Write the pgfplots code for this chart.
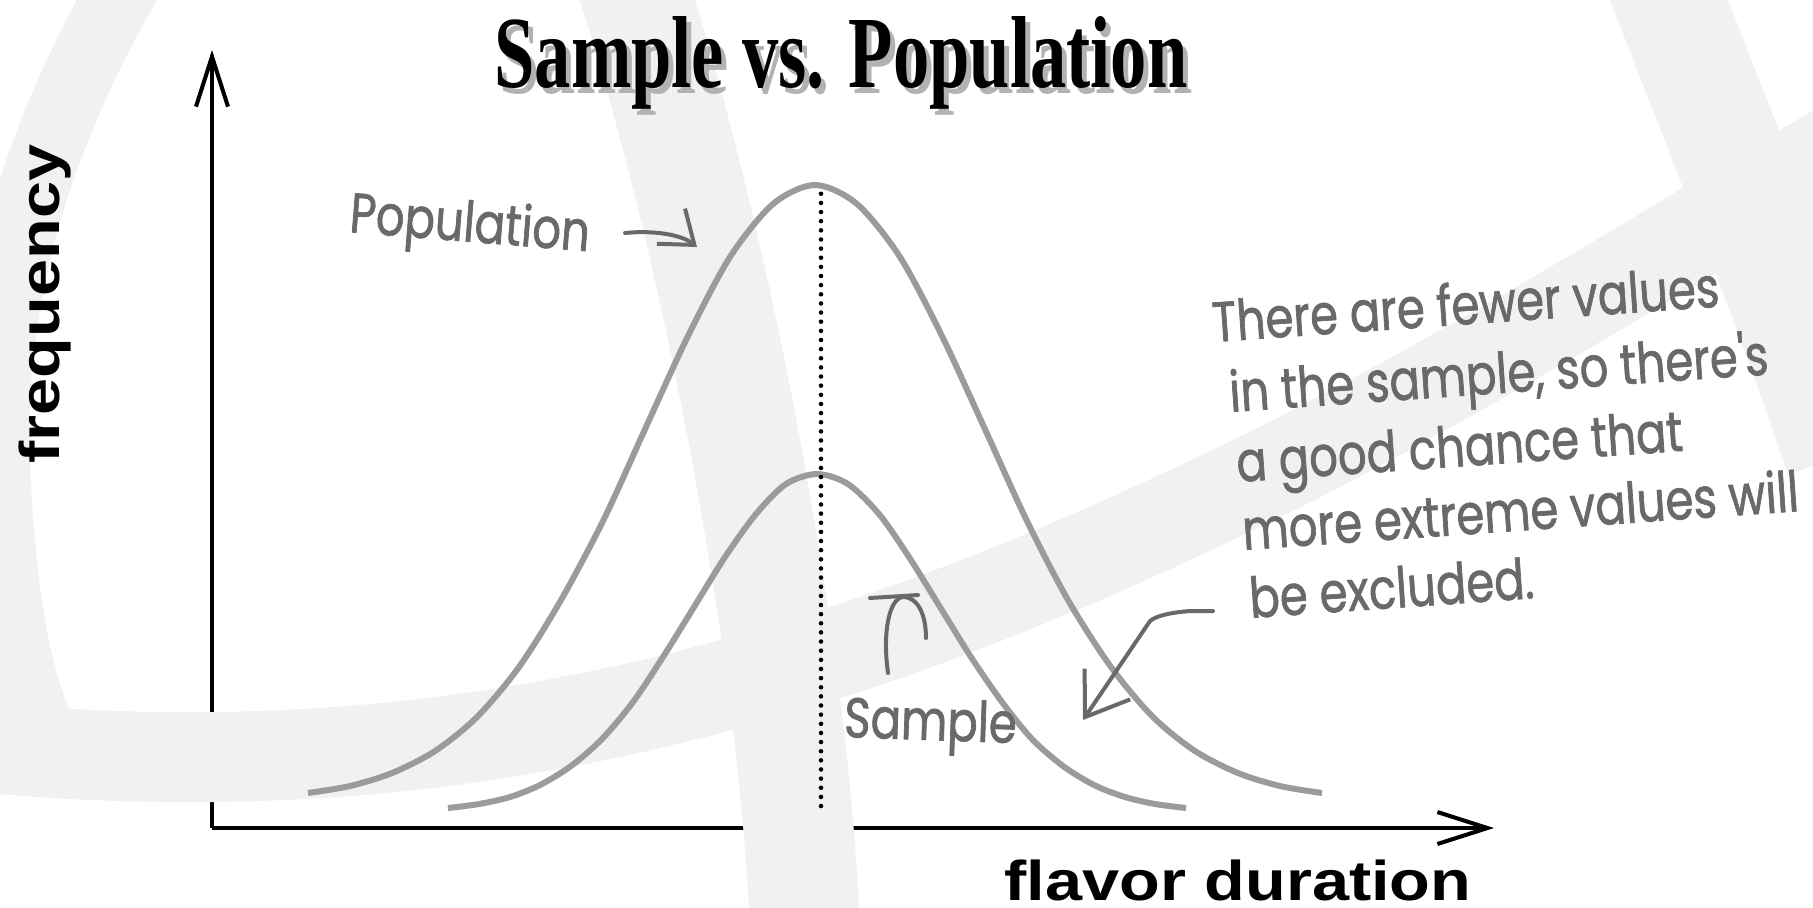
\documentclass[border=0pt]{standalone}
\usepackage{graphicx}
\usepackage{pgfplots}
\pgfplotsset{compat=1.18}
\usetikzlibrary{arrows.meta}
\usepackage{fontspec}
\setmainfont{Liberation Sans}
\newfontfamily\titlefont{Liberation Serif}
\newfontfamily\handfont{Poppins}[FakeStretch=0.80, FakeBold=1.2]
\definecolor{curvegray}{RGB}{155,155,155}
\definecolor{handgray}{RGB}{105,105,105}
\definecolor{bggray}{RGB}{241,241,241}

\pgfplotstableread{
x y
308 114
350 121
392 134
435 156
477 190
519 240
561 307
604 388
646 480
688 571
730 650
773 703
815 722
857 703
900 650
942 571
984 480
1026 388
1068 307
1111 240
1153 190
1195 156
1238 134
1280 121
1322 114
}\population

\pgfplotstableread{
x y
448 99
479 103
510 110
540 122
571 141
602 168
633 205
663 250
694 300
725 350
756 393
786 423
817 433
848 423
879 393
909 350
940 300
971 250
1002 205
1032 168
1063 141
1094 122
1125 110
1155 103
1186 99
}\sample

\begin{document}
\begin{tikzpicture}[hw/.style={font=\handfont\fontsize{16pt}{19pt}\selectfont, text=handgray, inner sep=0}]
\begin{axis}[
  scale only axis, width=128.2mm, height=77.8mm,
  xmin=212, xmax=1494, ymin=79, ymax=857,
  axis x line=bottom, axis y line=left,
  xtick=\empty, ytick=\empty,
  axis line style={line width=1.15pt, -{Straight Barb[length=5mm,width=3.2mm,line width=1.15pt]}},
  clip=false,
]
\coordinate (BL) at (axis cs:0,0);
\coordinate (TR) at (axis cs:1813,907);

% faint background watermark bands
\begin{scope}
\clip (axis cs:0,0) rectangle (axis cs:1813,907);
\draw[bggray, line width=11mm] (axis cs:630,930) .. controls (axis cs:705,700) and (axis cs:790,300) .. (axis cs:805,-20);
\draw[bggray, line width=7mm] (axis cs:130,930) .. controls (axis cs:30,760) and (axis cs:-10,600) .. (axis cs:-5,450)
  .. controls (axis cs:0,300) and (axis cs:20,200) .. (axis cs:60,140);
\draw[bggray, line width=9mm] (axis cs:-20,160) .. controls (axis cs:500,110) and (axis cs:900,250) .. (axis cs:1300,450)
  .. controls (axis cs:1550,580) and (axis cs:1700,680) .. (axis cs:1840,760);
\draw[bggray, line width=11mm] (axis cs:1660,930) .. controls (axis cs:1730,750) and (axis cs:1790,600) .. (axis cs:1840,450);
\end{scope}

% curves
\addplot[curvegray, line width=0.6mm, smooth] table {\population};
\addplot[curvegray, line width=0.6mm, smooth] table {\sample};
% mean line
\addplot[black, line width=1.3pt, line cap=round, dash pattern=on 0pt off 2.6pt] coordinates {(821,101) (821,722)};

% title
\node[anchor=base, inner sep=0, text=black!30] at (axis cs:846,814) {\resizebox{69.3mm}{7.1mm}{\titlefont\bfseries Sample vs. Population}};
\node[anchor=base, inner sep=0] at (axis cs:841,820) {\resizebox{69.3mm}{7.1mm}{\titlefont\bfseries Sample vs. Population}};

% axis labels
\node[rotate=90, anchor=base, inner sep=0] at (axis cs:60,603) {\scalebox{1.19}[1]{\fontsize{15.94pt}{19pt}\selectfont\bfseries frequency}};
\node[anchor=base, inner sep=0] at (axis cs:1238,7) {\scalebox{1.19}[1]{\fontsize{15.94pt}{19pt}\selectfont\bfseries flavor duration}};

% handwritten labels
\node[hw, rotate=-4.6, anchor=base west] at (axis cs:348,675) {Population};
\node[hw, rotate=-2, anchor=base west] at (axis cs:843,170) {Sample};
\node[hw, rotate=4, anchor=base west] at (axis cs:1213,565) {There are fewer values};
\node[hw, rotate=4, anchor=base west] at (axis cs:1230,495) {in the sample, so there's};
\node[hw, rotate=4, anchor=base west] at (axis cs:1237,425) {a good chance that};
\node[hw, rotate=4, anchor=base west] at (axis cs:1243,357) {more extreme values will};
\node[hw, rotate=4, anchor=base west] at (axis cs:1250,289) {be excluded.};

% handwritten arrows
\draw[handgray, line width=0.4mm, line cap=round, -{Straight Barb[length=3mm,width=4.5mm]}]
  (axis cs:625,674) .. controls (axis cs:655,677) and (axis cs:682,672) .. (axis cs:697,660);
\draw[handgray, line width=0.4mm, line cap=round]
  (axis cs:888,234) .. controls (axis cs:882,277) and (axis cs:890,309) .. (axis cs:903,310)
  .. controls (axis cs:918,310) and (axis cs:926,292) .. (axis cs:926,269);
\draw[handgray, line width=0.4mm, line cap=round] (axis cs:870,309) -- (axis cs:918,312);
\draw[handgray, line width=0.4mm, line cap=round, line join=round, -{Straight Barb[length=4mm,width=5.5mm]}]
  (axis cs:1213,296) -- (axis cs:1190,296) .. controls (axis cs:1165,294) and (axis cs:1155,290) .. (axis cs:1150,286) -- (axis cs:1083,187);
\end{axis}
\pgfresetboundingbox
\path[use as bounding box] (BL) rectangle (TR);
\end{tikzpicture}
\end{document}
